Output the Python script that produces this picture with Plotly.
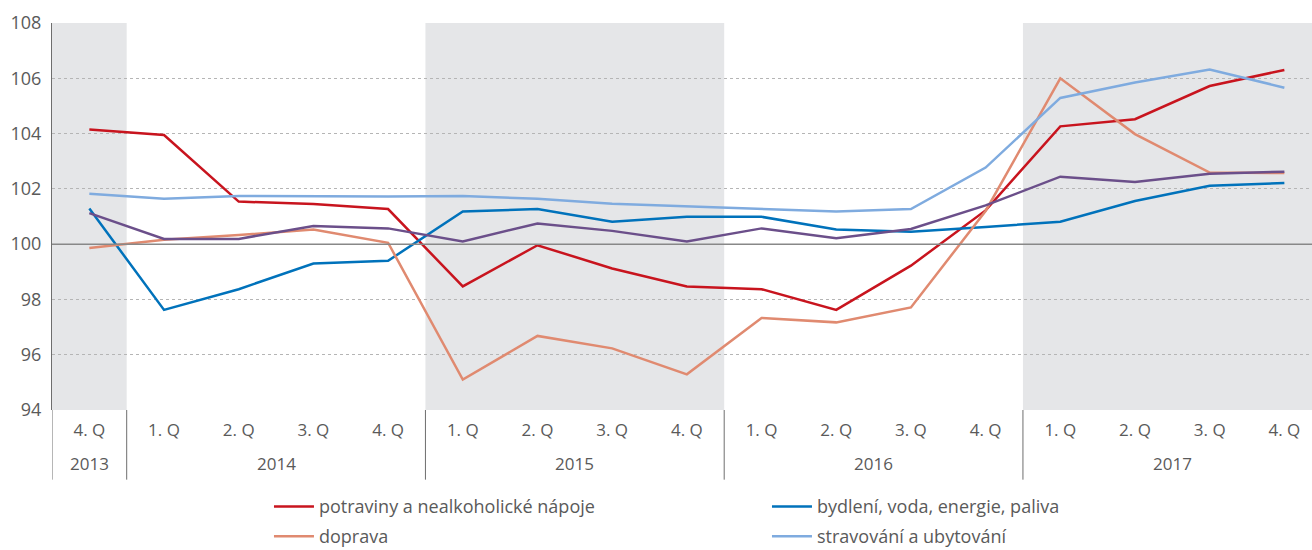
import plotly.graph_objects as go

quarters = ["4. Q", "1. Q", "2. Q", "3. Q", "4. Q", "1. Q", "2. Q", "3. Q", "4. Q",
            "1. Q", "2. Q", "3. Q", "4. Q", "1. Q", "2. Q", "3. Q", "4. Q"]
years = ["2013", "2014", "2015", "2016", "2017"]
year_start = [0, 1, 5, 9, 13]   # index of first quarter of each year
year_end = [0, 4, 8, 12, 16]
shaded_years = [0, 2, 4]        # 2013, 2015, 2017

potraviny = [104.15, 103.95, 101.54, 101.45, 101.27, 98.47, 99.96, 99.12, 98.47,
             98.37, 97.62, 99.22, 101.22, 104.26, 104.52, 105.72, 106.3]
bydleni = [101.29, 97.62, 98.37, 99.30, 99.40, 101.18, 101.27, 100.81, 100.99,
           100.99, 100.53, 100.45, 100.62, 100.81, 101.56, 102.11, 102.21]
doprava = [99.86, 100.16, 100.33, 100.53, 100.05, 95.10, 96.68, 96.23, 95.29,
           97.33, 97.17, 97.71, 101.2, 106.0, 103.98, 102.59, 102.57]
stravovani = [101.82, 101.64, 101.74, 101.72, 101.72, 101.74, 101.64, 101.46, 101.36,
              101.27, 101.18, 101.27, 102.77, 105.29, 105.85, 106.32, 105.66]
ostatni = [101.12, 100.19, 100.19, 100.66, 100.57, 100.10, 100.75, 100.48, 100.10,
           100.57, 100.21, 100.55, 101.4, 102.44, 102.25, 102.55, 102.62]

series = [
    ("potraviny a nealkoholické nápoje", potraviny, "#c8141e", "legend"),
    ("bydlení, voda, energie, paliva", bydleni, "#0072bb", "legend"),
    ("doprava", doprava, "#e08a70", "legend2"),
    ("stravování a ubytování", stravovani, "#7fabdf", "legend2"),
]

FONT = "Open Sans, sans-serif"
GREY = "#5a5a5a"

x = list(range(len(quarters)))
fig = go.Figure()

for name, vals, col, leg in series:
    fig.add_trace(go.Scatter(x=x, y=vals, mode="lines", name=name, legend=leg,
                             line=dict(color=col, width=2.5)))
# purple series has no visible legend entry in the reference
fig.add_trace(go.Scatter(x=x, y=ostatni, mode="lines", line=dict(color="#6b4f8a", width=2.5),
                         showlegend=False, hoverinfo="skip"))

# grey bands for every second year
for i in shaded_years:
    fig.add_shape(type="rect", xref="x", yref="y", x0=year_start[i] - 0.5, x1=year_end[i] + 0.5,
                  y0=94, y1=108, fillcolor="#e5e6e8", line_width=0, layer="below")

# vertical separators below the axis + year labels
for i in range(len(years)):
    fig.add_shape(type="line", xref="x", yref="paper", x0=year_start[i] - 0.5, x1=year_start[i] - 0.5,
                  y0=0, y1=-0.18, line=dict(color="#6e6e6e", width=1))
    fig.add_annotation(x=(year_start[i] + year_end[i]) / 2, y=-0.137, xref="x", yref="paper",
                       text=years[i], showarrow=False, yanchor="middle",
                       font=dict(family=FONT, size=17, color=GREY))

# 100 baseline
fig.add_shape(type="line", xref="paper", yref="y", x0=0, x1=1, y0=100, y1=100,
              line=dict(color="#888888", width=1.5), layer="above")

leg_style = dict(orientation="h", xanchor="left", yanchor="middle", itemwidth=40,
                 entrywidth=443, entrywidthmode="pixels",
                 font=dict(family=FONT, size=18, color=GREY), bgcolor="rgba(0,0,0,0)")

fig.update_layout(
    width=1312, height=550,
    margin=dict(l=52, r=0, t=23, b=140, autoexpand=False),
    plot_bgcolor="white", paper_bgcolor="white",
    font=dict(family=FONT, color=GREY),
    xaxis=dict(range=[-0.5, 16.37], tickvals=x, ticktext=quarters, showgrid=False,
               zeroline=False, showline=False, ticks="", tickfont=dict(size=17, color=GREY),
               ticklabelstandoff=8, automargin=False),
    yaxis=dict(range=[94, 108], tickvals=list(range(94, 109, 2)), showgrid=True,
               gridcolor="#b5b5b5", griddash="dot", gridwidth=1, zeroline=False,
               showline=True, linecolor="#6e6e6e", linewidth=1, ticks="",
               tickfont=dict(size=18, color=GREY), ticklabelstandoff=6, automargin=False),
    legend=dict(x=0.1722, y=-0.25, **leg_style),
    legend2=dict(x=0.1722, y=-0.327, **leg_style),
)

fig.write_html("out.html", config={"displayModeBar": False},
               post_script="document.body.style.margin='0';document.body.style.overflow='hidden';"
                           "document.documentElement.style.overflow='hidden';")
